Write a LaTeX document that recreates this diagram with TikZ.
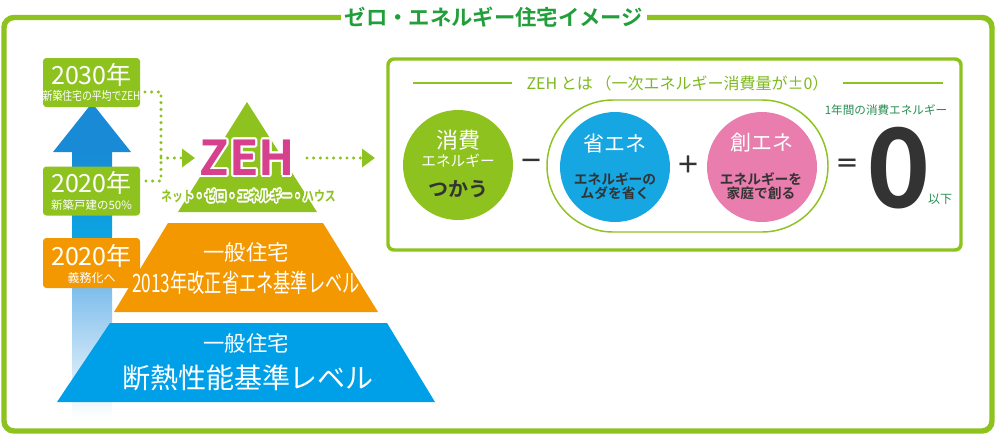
\documentclass[tikz,border=0pt]{standalone}
\usepackage{fontspec}
\setmainfont{Noto Sans CJK JP}[BoldFont={Noto Sans CJK JP Bold}]
\usepackage{graphicx}
\usetikzlibrary{arrows.meta}
\definecolor{lime}{RGB}{141,194,31}
\definecolor{ttlgreen}{RGB}{34,158,58}
\definecolor{orng}{RGB}{243,152,0}
\definecolor{pblue}{RGB}{0,160,233}
\definecolor{cblue}{RGB}{22,166,226}
\definecolor{pinkc}{RGB}{232,125,174}
\definecolor{mag}{RGB}{214,64,140}
\definecolor{dark}{RGB}{51,51,51}
\definecolor{tealg}{RGB}{40,140,80}
\definecolor{hdr}{RGB}{125,185,30}
\definecolor{ahead}{RGB}{24,138,214}
\definecolor{ashaft}{RGB}{12,165,226}
\definecolor{alight}{RGB}{125,190,235}
\newcommand\fs[1]{\fontsize{#1pt}{#1pt}\selectfont}
\newcommand\outlined[3]{\leavevmode\rlap{\color{#1}\foreach \a in {0,30,...,330}{\rlap{\hspace*{\fpeval{#2*cosd(\a)}pt}\raisebox{\fpeval{#2*sind(\a)}pt}{#3}}}}#3}
\tikzset{
  yrbox/.style={draw=none, rounded corners=2.5pt, minimum width=72.75pt, minimum height=#1, inner sep=0pt},
  wt/.style={text=white, inner sep=0pt},
  dotline/.style={draw=lime, line width=2.6pt, line cap=round, dash pattern=on 0pt off 5pt},
  dotarrow/.style={dotline, -{Triangle[length=9.75pt, width=13.5pt]}},
  bigc/.style={circle, minimum size=82.5pt, inner sep=0pt},
  op/.style={text=dark, font=\fs{18}\bfseries, inner sep=0pt}
}
\begin{document}
\begin{tikzpicture}[x=0.75pt, y=-0.75pt]
\useasboundingbox (0,0) rectangle (1000,437);
% outer frame
\draw[lime, line width=4.1pt, rounded corners=7.5pt] (4,17.5) rectangle (992,431);
\node[fill=white, text=ttlgreen, font=\fs{16}\bfseries, inner xsep=3pt, inner ysep=1pt] (title) at (494,17) {ゼロ・エネルギー住宅イメージ};

% blue arrow
\fill[ahead] (92,103) -- (131,152) -- (53,152) -- cycle;
\shade[top color=ahead, bottom color=ashaft] (72,151.5) rectangle (112,240);
\shade[top color=alight, bottom color=white] (72,287) rectangle (112,418);

% year boxes
\node[yrbox=36.75pt, fill=lime] (b2030) at (91.5,82.5) {};
\node[wt, font=\fs{18.75}] (t2030) at (91.5,74.5) {2030年};
\node[wt, font=\fs{9}] (s2030) at (91.5,96) {\scalebox{0.82}[1]{新築住宅の平均でZEH}};
\node[yrbox=36.75pt, fill=lime] (b2020) at (91.5,191) {};
\node[wt, font=\fs{18.75}] (t2020) at (91.5,183) {2020年};
\node[wt, font=\fs{8.6}] (s2020) at (91.5,205) {新築戸建の50\%};
\node[yrbox=37.5pt, fill=orng] (b2020o) at (91.5,263) {};
\node[wt, font=\fs{18.75}] (t2020o) at (91.5,256) {2020年};
\node[wt, font=\fs{9}] (s2020o) at (91.5,278) {義務化へ};

% pyramid
\fill[lime] (247,102) -- (317,212) -- (178,212) -- cycle;
\fill[orng] (168,223) -- (323,223) -- (378,312) -- (114,312) -- cycle;
\fill[pblue] (110,323) -- (387,323) -- (435,402) -- (57,402) -- cycle;
\node[text=mag, font=\fs{36}\bfseries, inner sep=0pt] (zeh) at (247.5,157.5) {\outlined{white}{1.5}{ZEH}};
\node[text=lime, font=\fs{10.5}\bfseries, inner sep=0pt] (zehsub) at (248.5,196) {\scalebox{0.78}[1]{\outlined{white}{1.3}{ネット・ゼロ・エネルギー・ハウス}}};
\node[wt, font=\fs{16}] (o1) at (246,252) {一般住宅};
\node[wt, font=\fs{19}] (o2) at (246,283) {\scalebox{0.68}[1]{2013年改正省エネ基準レベル}};
\node[wt, font=\fs{16}] (p1) at (246,343) {一般住宅};
\node[wt, font=\fs{21}] (p2) at (248,378) {断熱性能基準レベル};

% dotted connectors
\coordinate (j30) at (145,92);
\coordinate (j20) at (145,181);
\coordinate (jc) at (161,181);
\coordinate (ja) at (161,158);
\coordinate (zehL) at (195,158);
\coordinate (zehR) at (307,158);
\coordinate (boxL) at (375,158);
\draw[dotline] (j30) -| (jc) -- (j20);
\draw[dotarrow] (ja) -- (zehL);
\draw[dotarrow] (zehR) -- (boxL);

% right box
\draw[lime, line width=2.6pt, rounded corners=4.5pt] (388,59) rectangle (961,250);
\node[text=hdr, font=\fs{12}, inner sep=0pt] (hdr) at (677.5,83) {ZEH とは\,（一次エネルギー消費量が±0）};
\draw[lime, line width=1.1pt] (413,83) -- (512,83);
\draw[lime, line width=1.1pt] (843,83) -- (943,83);

\draw[lime, line width=1.1pt, rounded corners=49.5pt] (547,100) rectangle (828,232);

\node[bigc, fill=lime] (cuse) at (458,165) {};
\node[wt, font=\fs{16.5}] at (458,140) {消費};
\node[wt, font=\fs{11}] at (458,161) {エネルギー};
\node[text=dark, font=\fs{15}\bfseries, inner sep=0pt] at (458,189) {つかう};

\node[bigc, fill=cblue] (csave) at (615,167) {};
\node[wt, font=\fs{15.75}] at (615,144) {省エネ};
\node[text=dark, font=\fs{10.3}\bfseries, inner sep=0pt] at (615,179) {エネルギーの};
\node[text=dark, font=\fs{10.3}\bfseries, inner sep=0pt] at (615,193) {ムダを省く};

\node[bigc, fill=pinkc] (cmake) at (762,167) {};
\node[wt, font=\fs{15.75}] at (762,143) {創エネ};
\node[text=dark, font=\fs{10.3}\bfseries, inner sep=0pt] at (761,179) {エネルギーを};
\node[text=dark, font=\fs{10.3}\bfseries, inner sep=0pt] at (761,193) {家庭で創る};

\node[op] (minus) at (531,164) {－};
\node[op] (plus) at (688,165) {＋};
\node[op] (eq) at (847.5,166) {＝};
\node[text=dark, font=\fs{82}\bfseries, inner sep=0pt] (zero) at (898.5,168) {0};
\node[text=tealg, font=\fs{9}, inner sep=0pt] (ika) at (940,199) {以下};
\node[text=tealg, font=\fs{8.7}, inner sep=0pt] (nen) at (886,110) {1年間の消費エネルギー};
\end{tikzpicture}
\end{document}
